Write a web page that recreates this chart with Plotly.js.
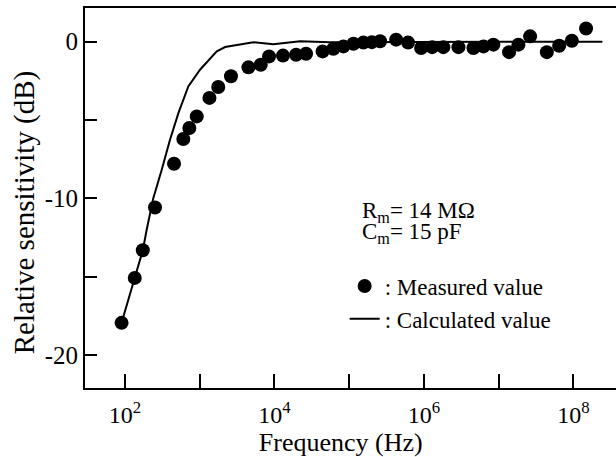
<!DOCTYPE html>
<html>
<head>
<meta charset="utf-8">
<script src="https://cdn.plot.ly/plotly-3.0.1.min.js"></script>
<style>html,body{margin:0;padding:0;background:#fff;}#chart{width:616px;height:457px;}</style>
</head>
<body>
<div id="chart"></div>
<script>
// Measured points (frequency in Hz, relative sensitivity in dB)
const measuredFreq = [90, 135, 173, 252, 453, 603, 726, 912, 1350, 1770, 2620, 4480, 6560, 8470,
  1.30e4, 1.95e4, 2.65e4, 4.41e4, 6.15e4, 8.36e4, 1.14e5, 1.55e5, 2.01e5, 2.59e5, 4.25e5, 6.14e5,
  9.18e5, 1.29e6, 1.82e6, 2.90e6, 4.60e6, 6.27e6, 8.51e6, 1.38e7, 1.84e7, 2.64e7, 4.42e7, 6.46e7,
  9.55e7, 1.48e8];
const measuredDb = [-17.95, -15.08, -13.32, -10.59, -7.79, -6.21, -5.51, -4.77, -3.59, -2.89, -2.21,
  -1.64, -1.47, -0.94, -0.89, -0.83, -0.77, -0.62, -0.45, -0.30, -0.13, -0.06, -0.03, 0.03, 0.13,
  -0.06, -0.40, -0.35, -0.35, -0.35, -0.40, -0.30, -0.19, -0.67, -0.19, 0.34, -0.67, -0.26, 0.06, 0.84];

// Calculated curve
const calcFreq = [90, 135, 173, 195, 239, 310, 400, 518, 703, 1009, 1690, 2183, 3467, 5224, 9660,
  22030, 55460, 479700, 1.05e7, 2.45e8];
const calcDb = [-17.95, -15.08, -13.32, -12.01, -9.99, -8.18, -6.26, -4.56, -2.86, -1.79, -0.62,
  -0.34, -0.19, -0.04, -0.16, 0.02, -0.03, 0, 0, 0];

// Tick labels
const xTickVals = [1e2, 1e3, 1e4, 1e5, 1e6, 1e7, 1e8];
const xTickText = ['10<sup>2</sup>', '', '10<sup>4</sup>', '', '10<sup>6</sup>', '', '10<sup>8</sup>'];
const yTickVals = [-20, -15, -10, -5, 0];
const yTickText = ['-20', '', '-10', '', '0'];

const FONT = '"Liberation Serif", "Times New Roman", Times, serif';

const traces = [
  {
    x: measuredFreq, y: measuredDb, type: 'scatter', mode: 'markers',
    name: ': Measured value',
    marker: {color: '#000', size: 14}
  },
  {
    x: calcFreq, y: calcDb, type: 'scatter', mode: 'lines',
    name: ': Calculated value',
    line: {color: '#000', width: 2}
  }
];

const layout = {
  width: 616, height: 457,
  margin: {l: 85, r: 0, t: 8, b: 69},
  paper_bgcolor: '#fff', plot_bgcolor: '#fff',
  font: {family: FONT, color: '#000', size: 23},
  showlegend: true,
  legend: {
    x: 0.489, y: 0.325, xanchor: 'left', yanchor: 'top',
    bgcolor: 'rgba(0,0,0,0)', font: {family: FONT, size: 23, color: '#000'},
    itemclick: false
  },
  xaxis: {
    type: 'log', range: [1.4645, 8.571],
    tickmode: 'array', tickvals: xTickVals, ticktext: xTickText,
    ticks: 'inside', ticklen: 14, tickwidth: 2, tickcolor: '#000',
    showline: true, linecolor: '#000', linewidth: 2, mirror: true,
    showgrid: false, zeroline: false,
    tickfont: {family: FONT, size: 24, color: '#000'},
    ticklabelstandoff: 4,
    title: {text: 'Frequency (Hz)&nbsp;&nbsp;&nbsp;', font: {family: FONT, size: 26, color: '#000'}, standoff: 0}
  },
  yaxis: {
    range: [-22.11, 2.15],
    tickmode: 'array', tickvals: yTickVals, ticktext: yTickText,
    ticks: 'inside', ticklen: 12, tickwidth: 2, tickcolor: '#000',
    showline: true, linecolor: '#000', linewidth: 2, mirror: false,
    showgrid: false, zeroline: false,
    tickfont: {family: FONT, size: 25, color: '#000'},
    ticklabelstandoff: 0,
    title: {text: 'Relative sensitivity (dB)&nbsp;&nbsp;&nbsp;&nbsp;', font: {family: FONT, size: 29, color: '#000'}, standoff: 2}
  },
  annotations: [
    {xref: 'x', yref: 'y', x: 5.146, y: -10.85, xanchor: 'left', yanchor: 'middle',
     text: 'R<sub>m</sub>= 14 MΩ', showarrow: false, font: {family: FONT, size: 23, color: '#000'}},
    {xref: 'x', yref: 'y', x: 5.146, y: -12.2, xanchor: 'left', yanchor: 'middle',
     text: 'C<sub>m</sub>= 15 pF', showarrow: false, font: {family: FONT, size: 23, color: '#000'}}
  ]
};

Plotly.newPlot('chart', traces, layout, {displayModeBar: false, staticPlot: true});
</script>
</body>
</html>
